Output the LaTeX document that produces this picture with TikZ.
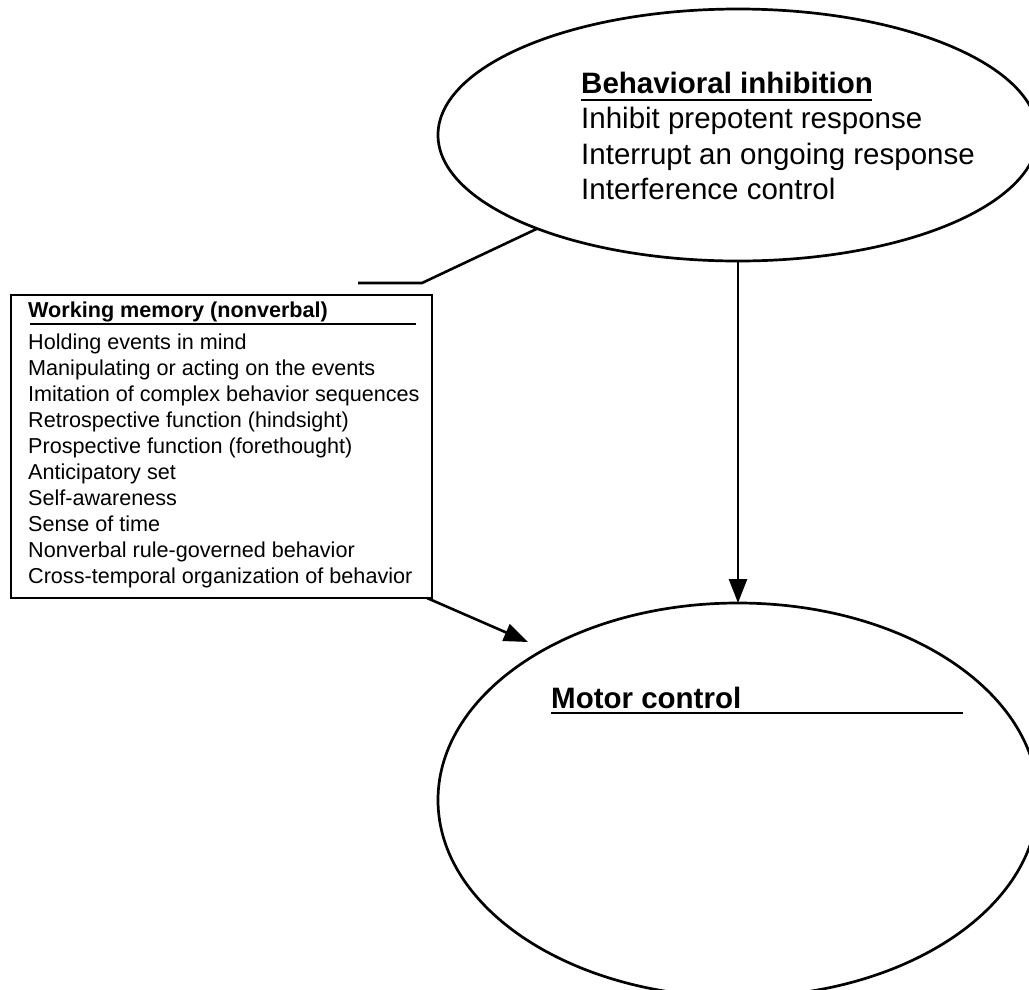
\documentclass[tikz,border=0pt]{standalone}
\usepackage{fontspec}
\setmainfont{Liberation Sans}
\usetikzlibrary{shapes.geometric,arrows.meta}
\begin{document}
\begin{tikzpicture}[x=1pt,y=-1pt,
  thick line/.style={line width=2.6pt},
  oval/.style={ellipse, draw, line width=2.7pt, inner sep=0pt, outer sep=0pt},
  bigtitle/.style={anchor=base west, inner sep=0pt, font=\fontsize{29.5}{35.5}\selectfont\bfseries},
  bigtext/.style={anchor=base west, inner sep=0pt, font=\fontsize{29.5}{35.5}\selectfont},
  smalltitle/.style={anchor=base west, inner sep=0pt, font=\fontsize{21.6}{26}\selectfont\bfseries},
  smalltext/.style={anchor=base west, inner sep=0pt, font=\fontsize{21.6}{26}\selectfont},
  rule line/.style={line width=1.3pt},
  arrow/.style={thick line, -{Triangle[length=24pt,width=18pt]}}
]
\useasboundingbox (0,0) rectangle (1029,989);
\clip (0,0) rectangle (1029,989);

% Behavioral inhibition ellipse
\node[oval, minimum width=600pt, minimum height=252pt] (bi) at (738,135) {};
\node[bigtitle] (bititle) at (581,93) {Behavioral inhibition};
\draw[rule line] (581,100) -- (872,100);
\foreach \t [count=\i] in {Inhibit prepotent response,Interrupt an ongoing response,Interference control}
  \node[bigtext] (bi\i) at (581,{93+35.6*\i}) {\t};

% Working memory box
\node[draw, line width=2.5pt, minimum width=421pt, minimum height=303pt, inner sep=0pt, outer sep=0pt, anchor=north west] (wm) at (11,295) {};
\node[smalltitle] (wmtitle) at (28,317) {Working memory (nonverbal)};
\draw[rule line] (30,324) -- (416,324);
\foreach \t [count=\i] in {Holding events in mind,Manipulating or acting on the events,Imitation of complex behavior sequences,Retrospective function (hindsight),Prospective function (forethought),Anticipatory set,Self-awareness,Sense of time,Nonverbal rule-governed behavior,Cross-temporal organization of behavior}
  \node[smalltext] (wm\i) at (28,{323+26*\i}) {\t};

% Motor control ellipse
\node[oval, minimum width=600pt, minimum height=394pt] (mc) at (738,800) {};
\node[bigtitle] (mctitle) at (551,708) {Motor control};
\draw[rule line] (551,713) -- (963,713);

% Connectors
\coordinate (bend) at (422,283);
\coordinate (free) at (358,283);
\draw[thick line] (bi.205.6) -- (bend) -- (free);
\draw[arrow] (bi.south) -- (mc.north);
\coordinate (tip) at (528,642);
\draw[arrow] ([xshift=-5pt]wm.south east) -- (tip);
\end{tikzpicture}
\end{document}
